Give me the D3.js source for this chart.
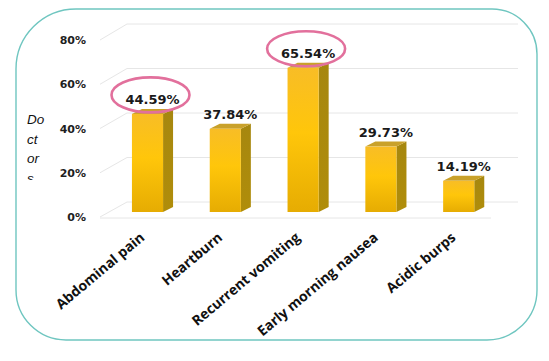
<!DOCTYPE html>
<html><head><meta charset="utf-8">
<script src="https://cdn.jsdelivr.net/npm/d3@7"></script>
<style>body{margin:0;background:#fff}</style></head><body>
<svg id="c" width="549" height="361"></svg>
<script>
const categories = ["Abdominal pain","Heartburn","Recurrent vomiting","Early morning nausea","Acidic burps"];
const values = [44.59, 37.84, 65.54, 29.73, 14.19];
const valueLabels = ["44.59%","37.84%","65.54%","29.73%","14.19%"];
const highlighted = ["Abdominal pain","Recurrent vomiting"];
const yTicks = [0, 20, 40, 60, 80];
const yTickLabels = ["0%","20%","40%","60%","80%"];
const axisTitleLines = ["Do","ct","or","s"];

const svg = d3.select("#c");
const defs = svg.append("defs");

// frame
const L=16,T=9,R=537,B=340, rTL=60, rTR=45, rBR=50, rBL=50;
svg.append("path")
  .attr("d",`M${L+rTL},${T} H${R-rTR} A${rTR},${rTR} 0 0 1 ${R},${T+rTR} V${B-rBR} A${rBR},${rBR} 0 0 1 ${R-rBR},${B} H${L+rBL} A${rBL},${rBL} 0 0 1 ${L},${B-rBL} V${T+rTL} A${rTL},${rTL} 0 0 1 ${L+rTL},${T} Z`)
  .attr("fill","none").attr("stroke","#6fc6c0").attr("stroke-width",1.4);

// scales
const yFront = d3.scaleLinear().domain([0,80]).range([217,40]);
const yBack = d3.scaleLinear().domain([0,80]).range([202,24]);
const yBar = d3.scaleLinear().domain([0,80]).range([212,36]);
const x = d3.scaleBand().domain(categories).range([108.6,497.6]).paddingInner(0.6).paddingOuter(0.3);
const depthX = 10, depthY = -5;
const wallL = 100, wallDX = 27, wallR = 518;

// gridlines
const g = svg.append("g").attr("stroke","#e6e6e6").attr("stroke-width",1).attr("fill","none");
yTicks.forEach(v=>{
  g.append("path").attr("d",`M${wallL},${yFront(v)} L${wallL+wallDX},${yBack(v)} H${wallR}`);
});
g.append("path").attr("d",`M${wallL},${yFront(0)+1} H${wallR-wallDX}`);

// y axis labels
const ax = svg.append("g").attr("transform","translate(88,0)")
  .call(d3.axisLeft(yFront).tickValues(yTicks).tickSize(0).tickPadding(2)
    .tickFormat((d,i)=>yTickLabels[i]));
ax.select(".domain").remove();
ax.selectAll("text").attr("font-family","DejaVu Sans").attr("font-weight","bold")
  .attr("font-size",11).attr("fill","#1e1e1e");

// axis title (clipped)
defs.append("clipPath").attr("id","tclip").append("rect").attr("x",0).attr("y",100).attr("width",60).attr("height",80);
const tt = svg.append("text").attr("clip-path","url(#tclip)")
  .attr("font-family","Liberation Sans").attr("font-style","italic").attr("font-size",13.5).attr("fill","#111");
axisTitleLines.forEach((s,i)=>tt.append("tspan").attr("x",27).attr("y",124+i*19.5).text(s));

// gradients
const gf = defs.append("linearGradient").attr("id","gf").attr("x1",0).attr("y1",0).attr("x2",0).attr("y2",1);
gf.append("stop").attr("offset","0%").attr("stop-color","#f8bd26");
gf.append("stop").attr("offset","45%").attr("stop-color","#ffc60a");
gf.append("stop").attr("offset","100%").attr("stop-color","#e6ac02");
const gs = defs.append("linearGradient").attr("id","gs").attr("x1",0).attr("y1",0).attr("x2",0).attr("y2",1);
gs.append("stop").attr("offset","0%").attr("stop-color","#a6870f");
gs.append("stop").attr("offset","100%").attr("stop-color","#b08d0a");

// bars
const bars = svg.append("g").selectAll("g").data(categories).join("g");
bars.each(function(c,i){
  const gg = d3.select(this);
  const x0 = x(c), w = x.bandwidth(), y0 = yBar(values[i]), yb = yBar(0);
  gg.append("path").attr("d",`M${x0+w},${y0} L${x0+w+depthX},${y0+depthY} V${yb+depthY} L${x0+w},${yb} Z`).attr("fill","url(#gs)");
  gg.append("path").attr("d",`M${x0},${y0} L${x0+depthX},${y0+depthY} H${x0+w+depthX} L${x0+w},${y0} Z`).attr("fill","#c9a12a");
  gg.append("rect").attr("x",x0).attr("y",y0).attr("width",w).attr("height",yb-y0).attr("fill","url(#gf)");
  const lx = x0 + w/2 + 5, ly = y0 - 10;
  gg.append("text").attr("x",lx).attr("y",ly).attr("text-anchor","middle")
    .attr("font-family","DejaVu Sans").attr("font-weight","bold").attr("font-size",13)
    .attr("fill","#1a1a1a").text(valueLabels[i]);
  if (highlighted.includes(c)) {
    gg.append("ellipse").attr("cx",lx-2).attr("cy",ly-9).attr("rx",39).attr("ry",17.5)
      .attr("fill","none").attr("stroke","#e2709c").attr("stroke-width",2.6);
  }
});

// category labels
svg.append("g").selectAll("text").data(categories).join("text")
  .attr("transform",d=>`translate(${x(d)+x.bandwidth()/2-2},239) rotate(-40)`)
  .attr("text-anchor","end")
  .attr("font-family","Open Sans").attr("font-weight","bold").attr("font-size",14)
  .attr("fill","#111").text(d=>d);
</script>
</body></html>
